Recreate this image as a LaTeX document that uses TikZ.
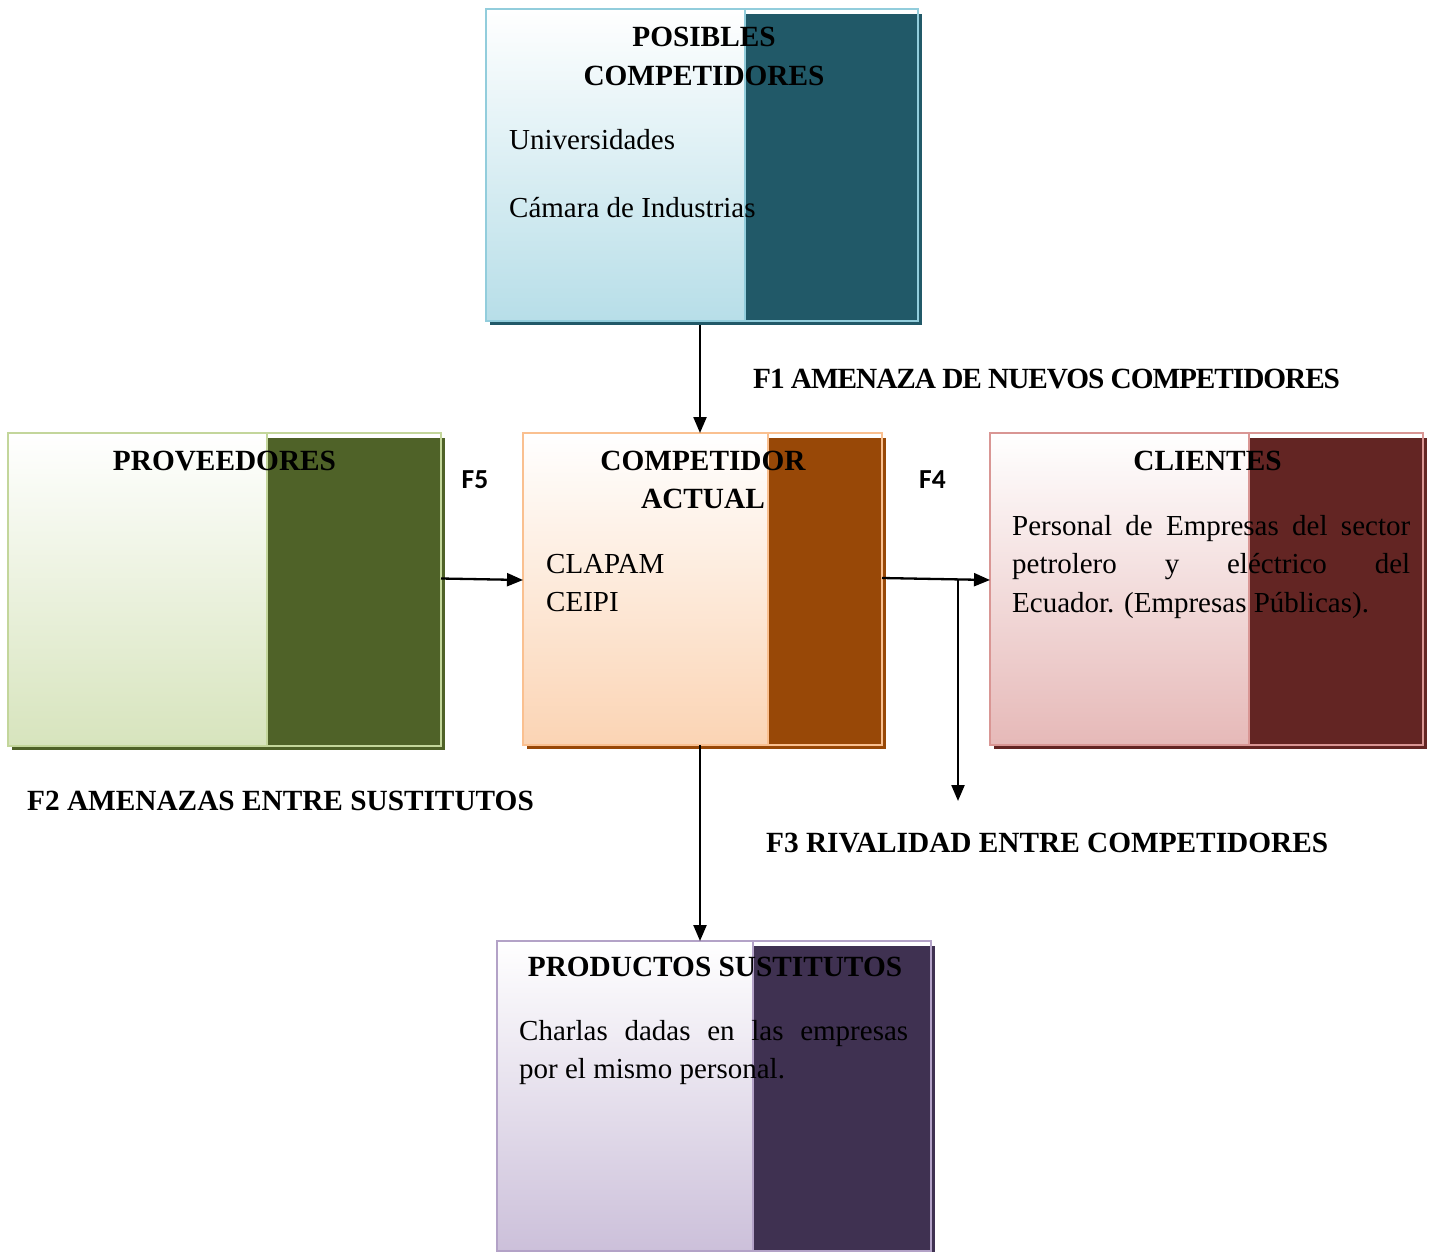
\documentclass[tikz,border=0pt]{standalone}
\usepackage{fontspec}
\setmainfont{Liberation Serif}
\newfontfamily\calib{Carlito}
\usetikzlibrary{arrows.meta,fit,calc}
\definecolor{bluedark}{HTML}{215968}
\definecolor{bluefill}{HTML}{B7DEE8}
\definecolor{blueline}{HTML}{92CDDC}
\definecolor{greendark}{HTML}{4F6228}
\definecolor{greenfill}{HTML}{D7E4BD}
\definecolor{greenline}{HTML}{C3D69B}
\definecolor{orangedark}{HTML}{984807}
\definecolor{orangefill}{HTML}{FBD4B4}
\definecolor{orangeline}{HTML}{FAC090}
\definecolor{reddark}{HTML}{632523}
\definecolor{redfill}{HTML}{E6B9B8}
\definecolor{redline}{HTML}{D99694}
\definecolor{purpledark}{HTML}{3F3151}
\definecolor{purplefill}{HTML}{CCC0DA}
\definecolor{purpleline}{HTML}{B3A2C7}
% name, x1, y1, x2, y2, split x, colour prefix
\newcommand\porterbox[7]{%
  \fill[#7dark] ({#2+4},{#3+5}) rectangle ({#4+4},{#5+4});
  \shade[top color=white, bottom color=#7fill] (#2,#3) rectangle (#6,#5);
  \draw[#7line, line width=2pt] (#6,#3) -- (#6,#5);
  \node[fit={(#2,#3) (#4,#5)}, inner sep=0pt, outer sep=0pt, draw=#7line, line width=2.8pt] (#1) {};
}
\tikzset{
  ttl/.style={font=\bfseries\fontsize{29.3}{38}\selectfont, anchor=base, inner sep=0pt},
  txt/.style={font=\fontsize{29}{38.5}\selectfont, anchor=base west, inner sep=0pt},
  para/.style={txt, align=justify},
  flab/.style={font=\bfseries\fontsize{29.3}{38}\selectfont, anchor=base west, inner sep=0pt},
  fnum/.style={font=\calib\bfseries\fontsize{27.5}{33}\selectfont, anchor=base, inner sep=0pt},
  conn/.style={line width=2.3pt, -{Triangle[length=16pt,width=13pt]}}
}
\begin{document}
\begin{tikzpicture}[x=1pt,y=-1pt]
\useasboundingbox (0,0) rectangle (1429,1252);
\begin{scope}
\clip (0,0) rectangle (1429,1252);
\porterbox{pos}{486}{9}{918}{321}{745}{blue}
\porterbox{prov}{8}{433}{441}{746}{267}{green}
\porterbox{comp}{523}{433}{882}{745}{768}{orange}
\porterbox{cli}{990}{433}{1423}{745}{1249}{red}
\porterbox{prod}{497}{941}{931}{1251}{753}{purple}
\end{scope}

% texts
\node[ttl] (posT1) at (704,47) {POSIBLES};
\node[ttl] (posT2) at (704,86) {COMPETIDORES};
\node[txt] (posA) at (509,150) {Universidades};
\node[txt] (posB) at (509,218) {Cámara de Industrias};

\node[ttl] (provT) at (224.5,470) {PROVEEDORES};

\node[ttl] (compT1) at (703,470) {COMPETIDOR};
\node[ttl] (compT2) at (703,508) {ACTUAL};
\node[txt] (compA) at (546,573) {CLAPAM};
\node[txt] (compB) at (546,611) {CEIPI};

\node[ttl] (cliT) at (1207.5,470) {CLIENTES};
\node[para, text width=398pt] (cliP) at (1012,535) {\hyphenpenalty=10000\exhyphenpenalty=10000 Personal de Empresas del sector\linebreak petrolero y eléctrico del\linebreak Ecuador. (Empresas Públicas).};

\node[ttl] (prodT) at (715,976) {PRODUCTOS SUSTITUTOS};
\node[para, text width=389pt] (prodP) at (519,1040) {\hyphenpenalty=10000\exhyphenpenalty=10000 Charlas dadas en las empresas\linebreak por el mismo personal.};

\node[flab] (f1) at (753,388) {\addfontfeatures{LetterSpace=-3.6}F1 AMENAZA DE NUEVOS COMPETIDORES};
\node[flab] (f2) at (27,810) {F2 AMENAZAS ENTRE SUSTITUTOS};
\node[flab] (f3) at (766,852) {F3 RIVALIDAD ENTRE COMPETIDORES};
\node[fnum] (f5) at (475,488) {F5};
\node[fnum] (f4) at (932.5,488) {F4};

% connectors
\coordinate (br) at (958,579);
\coordinate (brend) at (958,801);
\draw[conn] ([shift={(-2pt,-4pt)}]pos.south) -- ([xshift=-2pt]pos.south |- comp.north);
\draw[conn] ([yshift=11pt]prov.east) -- ([yshift=9pt]comp.west);
\draw[conn] ([yshift=11pt]comp.east) -- ([yshift=9pt]cli.west);
\draw[conn] (br) -- (brend);
\draw[conn] ([xshift=-2.5pt]comp.south) -- ([xshift=-2.5pt]comp.south |- prod.north);
\end{tikzpicture}
\end{document}
